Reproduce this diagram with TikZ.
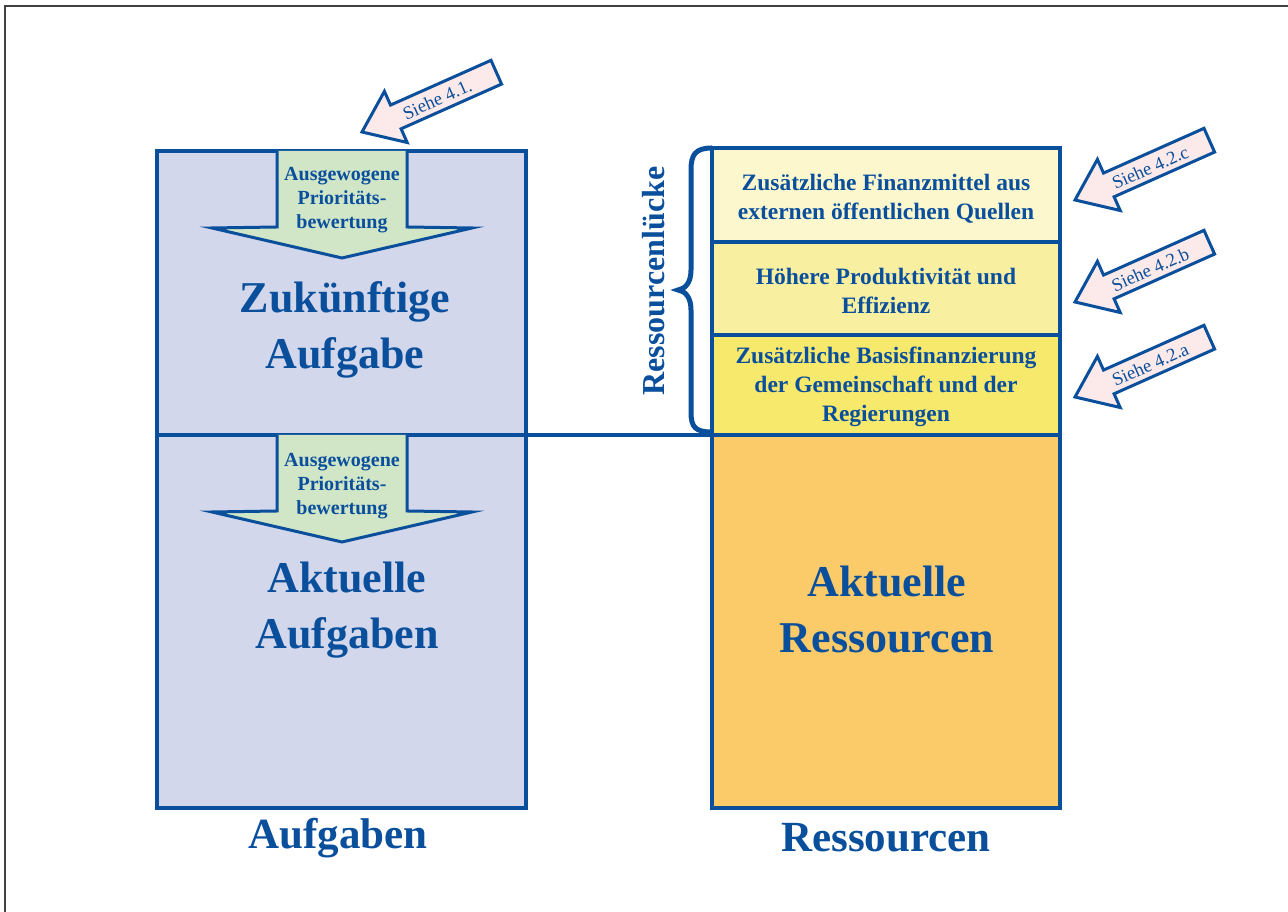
\documentclass[tikz,border=0pt]{standalone}
\usepackage{fontspec}
\setmainfont{Liberation Serif}
\definecolor{dblue}{RGB}{10,79,156}
\definecolor{lav}{RGB}{211,215,235}
\definecolor{grn}{RGB}{209,230,199}
\definecolor{pnk}{RGB}{252,233,233}
\definecolor{cA}{RGB}{253,247,205}
\definecolor{cB}{RGB}{249,239,161}
\definecolor{cC}{RGB}{247,233,107}
\definecolor{cD}{RGB}{251,203,105}
\definecolor{frm}{RGB}{64,64,64}
\tikzset{
  boxline/.style={draw=dblue, line width=3.5pt},
  arrline/.style={draw=dblue, line width=3pt, line join=miter},
  pinkarrow/.style={draw=dblue, line width=3pt, fill=pnk, line join=miter},
  arrtext/.style={text=dblue, font=\fontsize{20}{24}\selectfont\bfseries, align=center, inner sep=0pt},
  bigtext/.style={text=dblue, font=\fontsize{44}{56}\selectfont\bfseries, align=center, inner sep=0pt},
  labtext/.style={text=dblue, font=\fontsize{43}{50}\selectfont\bfseries, inner sep=0pt},
  restext/.style={text=dblue, font=\fontsize{23.5}{28.8}\selectfont\bfseries, align=center, inner sep=0pt},
  siehetext/.style={text=dblue, font=\fontsize{18.5}{20}\selectfont, inner sep=0pt}
}
\newcommand\siehePfeil[3]{%
  \begin{scope}[shift={#2}, rotate=24]
    \draw[pinkarrow] (0,0) -- (37,28) -- (37,13) -- (147,13) -- (147,-13) -- (37,-13) -- (37,-28) -- cycle;
    \node[siehetext, rotate=24] (#1) at (82,-1) {#3};
  \end{scope}}
\begin{document}
\begin{tikzpicture}[x=1pt,y=1pt]
\useasboundingbox (0,0) rectangle (1288,912);
\draw[frm, line width=2.5pt] (5,0) -- (5,906) -- (1288,906);

% left column
\draw[boxline, fill=lav] (157,104) rectangle (526,761);
\draw[boxline] (157,477) -- (712,477);

% green arrows
\draw[arrline, fill=grn] (277,761) -- (277,685) -- (212,684) -- (342,654) -- (472,684) -- (407,685) -- (407,761);
\draw[arrline, fill=grn] (277,477) -- (277,401) -- (212,400) -- (342,370) -- (472,400) -- (407,401) -- (407,477);
\node[arrtext] (prio1) at (342,712) {Ausgewogene\\Prioritäts-\\bewertung};
\node[arrtext] (prio2) at (342,426) {Ausgewogene\\Prioritäts-\\bewertung};

\node[bigtext] (zuk) at (345,582) {Zukünftige\\Aufgabe};
\node[bigtext] (akta) at (347,302) {Aktuelle\\Aufgaben};

% right column
\draw[boxline, fill=cD] (712,104) rectangle (1060,477);
\draw[boxline, fill=cC] (712,477) rectangle (1060,577);
\draw[boxline, fill=cB] (712,577) rectangle (1060,670);
\draw[boxline, fill=cA] (712,670) rectangle (1060,764);

\node[restext] (ext) at (886,713) {Zusätzliche Finanzmittel aus\\externen öffentlichen Quellen};
\node[restext] (prod) at (886,621) {Höhere Produktivität und\\Effizienz};
\node[restext] (basis) at (886,525) {Zusätzliche Basisfinanzierung\\der Gemeinschaft und der\\Regierungen};
\node[bigtext] (aktr) at (887,302) {Aktuelle\\Ressourcen};

% brace
\draw[dblue, line width=5pt] (712,764) .. controls (695,764) and (691,757) .. (691,742) -- (691,642)
  .. controls (691,629) and (685,623) .. (678,622) .. controls (685,621) and (691,615) .. (691,602)
  -- (691,500) .. controls (691,485) and (695,480) .. (712,480);
\node[text=dblue, font=\fontsize{32}{36}\selectfont\bfseries, rotate=90, inner sep=0pt] (luecke) at (654,631) {Ressourcenlücke};

% bottom labels
\node[labtext] (aufg) at (338,74) {Aufgaben};
\node[labtext] (ress) at (886,74) {Ressourcen};

% pink arrows
\siehePfeil{s41}{(362,780)}{Siehe 4.1.}
\siehePfeil{s42c}{(1075,712)}{Siehe 4.2.c}
\siehePfeil{s42b}{(1075,610)}{Siehe 4.2.b}
\siehePfeil{s42a}{(1075,515)}{Siehe 4.2.a}
\end{tikzpicture}
\end{document}
